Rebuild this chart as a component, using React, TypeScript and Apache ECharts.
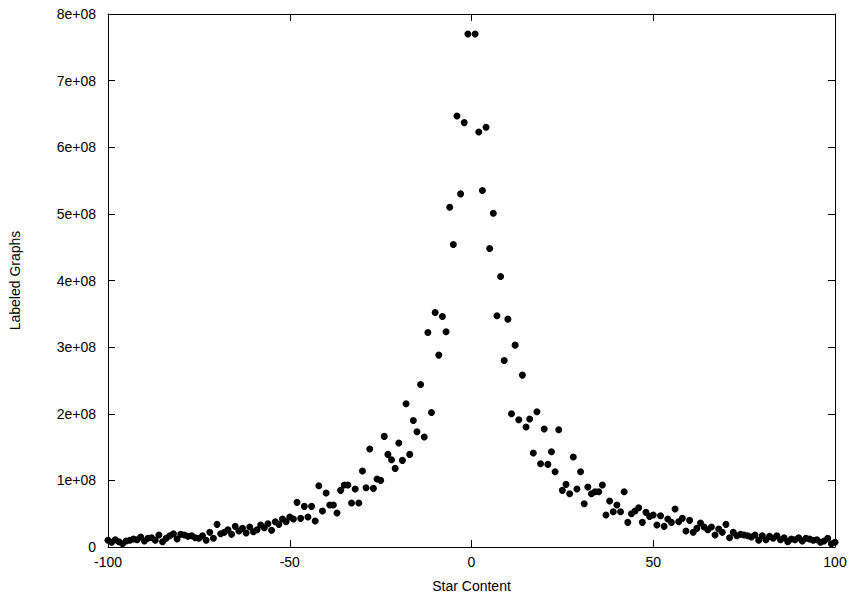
import React, { useEffect, useRef } from "react";
import * as echarts from "echarts";

const xTickLabels = ["-100", "-50", "0", "50", "100"];
const yTickLabels = ["0", "1e+08", "2e+08", "3e+08", "4e+08", "5e+08", "6e+08", "7e+08", "8e+08"];

// Star Content values (x) — every integer from -100 to 100 except 0
const leftX: number[] = [];
const rightX: number[] = [];
for (let i = -100; i <= -1; i++) leftX.push(i);
for (let i = 1; i <= 100; i++) rightX.push(i);

// Labeled Graphs (in units of 1e8) for x = -100 .. -1
const leftY = [
  0.10, 0.07, 0.11, 0.08, 0.05, 0.09, 0.10, 0.12, 0.11, 0.15,
  0.09, 0.13, 0.14, 0.10, 0.18, 0.08, 0.13, 0.17, 0.20, 0.12,
  0.19, 0.18, 0.16, 0.17, 0.14, 0.13, 0.17, 0.10, 0.22, 0.13,
  0.34, 0.20, 0.22, 0.26, 0.19, 0.31, 0.24, 0.28, 0.21, 0.30,
  0.23, 0.26, 0.33, 0.29, 0.35, 0.25, 0.38, 0.34, 0.42, 0.38,
  0.45, 0.42, 0.67, 0.43, 0.61, 0.45, 0.61, 0.39, 0.92, 0.54,
  0.81, 0.63, 0.63, 0.51, 0.85, 0.93, 0.93, 0.66, 0.87, 0.66,
  1.14, 0.89, 1.47, 0.88, 1.02, 1.00, 1.66, 1.39, 1.31, 1.18,
  1.56, 1.30, 2.15, 1.39, 1.90, 1.73, 2.44, 1.65, 3.22, 2.02,
  3.52, 2.88, 3.46, 3.23, 5.10, 4.54, 6.47, 5.30, 6.37, 7.70,
];

// Labeled Graphs (in units of 1e8) for x = 1 .. 100
const rightY = [
  7.70, 6.23, 5.35, 6.30, 4.48, 5.01, 3.47, 4.06, 2.80, 3.42,
  2.00, 3.03, 1.91, 2.58, 1.80, 1.92, 1.41, 2.03, 1.25, 1.77,
  1.24, 1.43, 1.13, 1.76, 0.85, 0.94, 0.80, 1.35, 0.87, 1.13,
  0.65, 0.90, 0.80, 0.83, 0.83, 0.93, 0.48, 0.69, 0.53, 0.63,
  0.53, 0.83, 0.37, 0.50, 0.54, 0.59, 0.37, 0.52, 0.46, 0.48,
  0.33, 0.47, 0.31, 0.42, 0.37, 0.57, 0.38, 0.43, 0.24, 0.40,
  0.22, 0.28, 0.36, 0.30, 0.26, 0.30, 0.18, 0.27, 0.22, 0.34,
  0.14, 0.22, 0.17, 0.19, 0.18, 0.17, 0.15, 0.18, 0.10, 0.17,
  0.11, 0.16, 0.13, 0.17, 0.11, 0.14, 0.08, 0.12, 0.11, 0.14,
  0.09, 0.13, 0.12, 0.10, 0.11, 0.07, 0.09, 0.13, 0.05, 0.07,
];

const SCALE = 1e8;

export default function App() {
  const ref = useRef<HTMLDivElement>(null);
  useEffect(() => {
    if (!ref.current) return;
    const chart = echarts.init(ref.current, null, { renderer: "svg" });
    const data: number[][] = [];
    leftX.forEach((x, i) => data.push([x, leftY[i] * SCALE]));
    rightX.forEach((x, i) => data.push([x, rightY[i] * SCALE]));

    const font = "Liberation Sans";
    const fs = 14;
    const axisLine = { show: true, onZero: false, lineStyle: { color: "#000", width: 1 } };
    const axisTick = { show: true, inside: true, length: 7, lineStyle: { color: "#000", width: 1 } };
    const xFmt = (v: number) => xTickLabels[Math.round((v + 100) / 50)] ?? String(v);
    const yFmt = (v: number) => yTickLabels[Math.round(v / SCALE)] ?? String(v);

    chart.setOption({
      animation: false,
      backgroundColor: "#fff",
      grid: { left: 106, right: 19, top: 14, bottom: 55, containLabel: false },
      xAxis: [
        {
          type: "value", min: -100, max: 100, interval: 50, position: "bottom",
          axisLine, axisTick, splitLine: { show: false },
          axisLabel: { color: "#000", fontFamily: font, fontSize: fs, margin: 8, formatter: xFmt },
          name: "Star Content", nameLocation: "middle", nameGap: 32,
          nameTextStyle: { color: "#000", fontFamily: font, fontSize: fs },
        },
        {
          type: "value", min: -100, max: 100, interval: 50, position: "top",
          axisLine, axisTick, splitLine: { show: false }, axisLabel: { show: false },
        },
      ],
      yAxis: [
        {
          type: "value", min: 0, max: 8e8, interval: 1e8, position: "left",
          axisLine, axisTick, splitLine: { show: false },
          axisLabel: { color: "#000", fontFamily: font, fontSize: fs, margin: 12, formatter: yFmt },
          name: "Labeled Graphs", nameLocation: "middle", nameGap: 86, nameRotate: 90,
          nameTextStyle: { color: "#000", fontFamily: font, fontSize: fs },
        },
        {
          type: "value", min: 0, max: 8e8, interval: 1e8, position: "right",
          axisLine, axisTick, splitLine: { show: false }, axisLabel: { show: false },
        },
      ],
      series: [
        {
          type: "scatter",
          xAxisIndex: 0,
          yAxisIndex: 0,
          data,
          symbol: "circle",
          symbolSize: 7,
          itemStyle: { color: "#000", opacity: 1 },
          clip: false,
        },
      ],
    });
    return () => chart.dispose();
  }, []);
  return (
    <div
      ref={ref}
      style={{ position: "absolute", left: 0, top: 0, width: 854, height: 602 }}
    />
  );
}
